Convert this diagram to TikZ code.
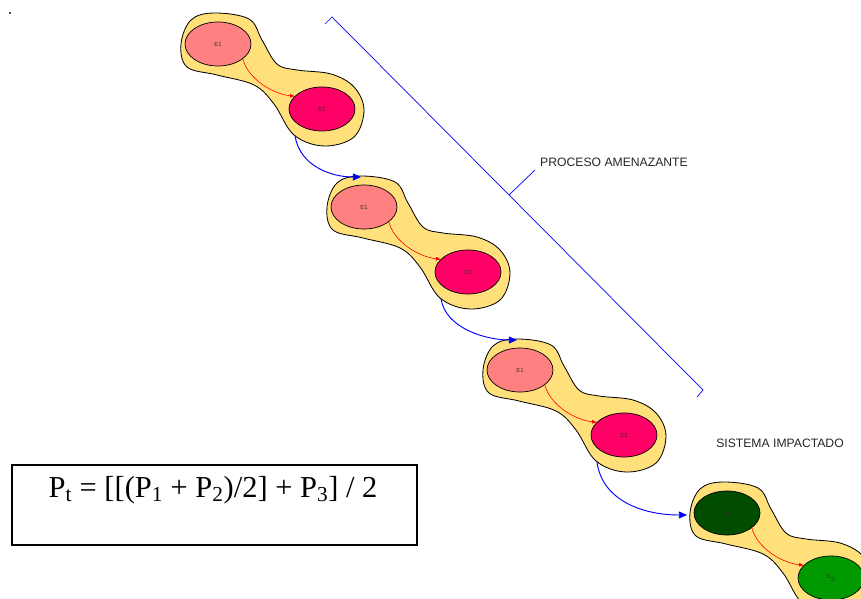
\documentclass[tikz,border=0pt]{standalone}
\usepackage{fontspec}
\setmainfont{Liberation Sans}
\newfontfamily\formulafont{Liberation Serif}
\usetikzlibrary{arrows.meta,calc,shapes.geometric}
\definecolor{blobyellow}{RGB}{255,224,122}
\definecolor{softred}{RGB}{255,128,128}
\definecolor{hotred}{RGB}{255,0,102}
\definecolor{darkgreen}{RGB}{0,77,0}
\definecolor{midgreen}{RGB}{0,153,0}

\begin{document}
\begin{tikzpicture}[x=0.03cm, y=-0.03cm,
    state/.style={draw, ellipse, line width=0.6pt, minimum width=1.98cm,
                  minimum height=1.32cm, inner sep=0pt,
                  font=\fontsize{5}{6}\selectfont, text=black!80},
    blob/.style={draw, line width=0.7pt, fill=blobyellow},
    inner/.style={red, line width=0.5pt, -{Triangle[length=4pt,width=3pt]}},
    link/.style={blue, line width=0.8pt, -{Triangle[length=7pt,width=6pt]}},
    label/.style={font=\fontsize{10.4}{12}\selectfont, text=black!85}]
  \useasboundingbox (0,0) rectangle (861,599);
  \clip (0,0) rectangle (861,599);

  % the four two-step blobs
  \foreach \i/\x/\y/\ca/\cb/\la/\lb/\inx/\iny in {
      1/218/44/softred/hotred/E1/E2/-3/-30,
      2/364/207/softred/hotred/E1/E2/-3/-30,
      3/520/370/softred/hotred/E1/E2/-3/-30,
      4/727/513/darkgreen/midgreen/E\textsubscript{1}/E\textsubscript{2}/-40/2}
  {
    \begin{scope}[shift={(\x,\y)}]
      \draw[blob] plot[smooth cycle, tension=0.6] coordinates {
          (-4,-31) (31,-25) (44,-4) (59,20) (79,26) (113,30) (136,43)
          (146,66) (136,93) (106,102) (76,91) (56,60) (36,41) (-1,31)
          (-31,23) (-37,0) (-27,-24)};
      \node[state, fill=\ca] (a\i) at (0,0) {\la};
      \node[state, fill=\cb] (b\i) at (104,65) {\lb};
      \draw[inner] (a\i.-31) .. controls (30,35) and (55,50) .. (b\i.155);
      \coordinate (in\i) at (\inx,\iny);
      \coordinate (out\i) at (77,92);
    \end{scope}
  }

  % links between blobs
  \draw[link] (out1) .. controls ($(out1)+(5,30)$) and ($(in2)+(-30,0)$) .. (in2);
  \draw[link] (out2) .. controls ($(out2)+(5,30)$) and ($(in3)+(-30,0)$) .. (in3);
  \draw[link] (out3) .. controls ($(out3)+(5,38)$) and ($(in4)+(-45,0)$) .. (in4);

  % bracket
  \draw[blue, line width=0.6pt] (325,24) -- (332,17) -- (703,390) -- (697,397);
  \draw[blue, line width=0.6pt] (509,195) -- (535,170);

  \node[label] (threat) at (614,162) {PROCESO AMENAZANTE};
  \node[label] (impact) at (780,443) {SISTEMA IMPACTADO};

  \node[draw, line width=1.1pt, minimum width=12.15cm, minimum height=2.4cm]
      (formulabox) at (214.5,505) {};
  \node[font=\formulafont\fontsize{26}{30}\selectfont] (formula) at (213,490)
      {P\textsubscript{t} = [[(P\textsubscript{1} + P\textsubscript{2})/2] + P\textsubscript{3}] / 2};

  \fill[black!70] (9,12) rectangle (11,14);
\end{tikzpicture}
\end{document}
